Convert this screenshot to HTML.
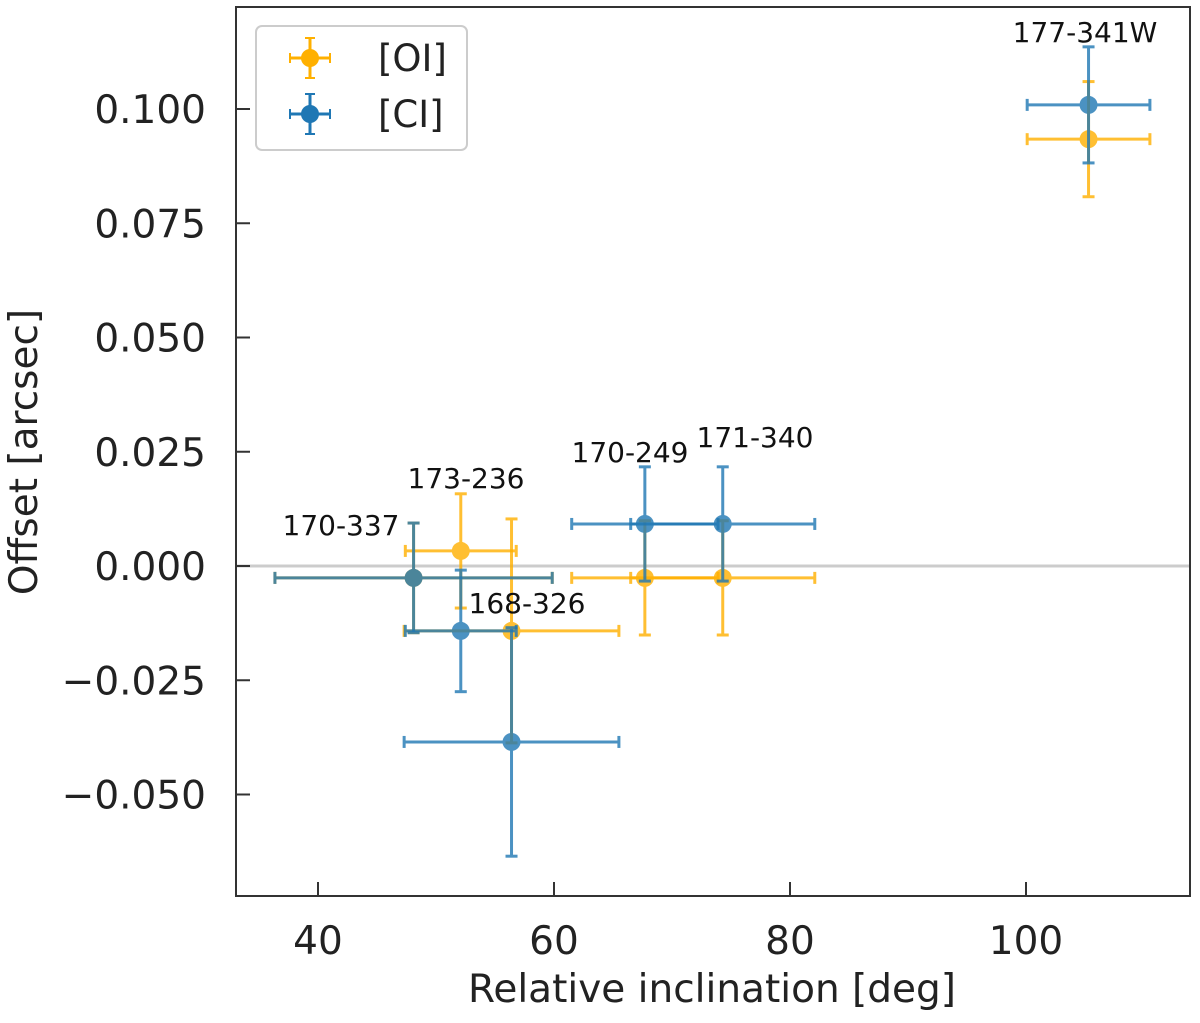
<!DOCTYPE html>
<html><head><meta charset="utf-8"><style>
body{margin:0;background:#fff}
svg text{font-family:"DejaVu Sans","Liberation Sans",sans-serif}
</style></head><body>
<svg id="chart" width="1200" height="1018" viewBox="0 0 1200 1018" xmlns="http://www.w3.org/2000/svg">
<rect width="1200" height="1018" fill="#fff"/>
<line id="zero" x1="236" x2="1190" stroke="#cccccc" stroke-width="3"/>
<g id="marks"></g>
<g id="axes"></g>
<rect x="236" y="7" width="954" height="889" fill="none" stroke="#333" stroke-width="2"/>
<g>
<rect x="256" y="26" width="211" height="124" rx="6" fill="#fff" fill-opacity="0.85" stroke="#ccc" stroke-width="2"/>
<g>
<line x1="290" x2="330" y1="58" y2="58" stroke="#ffb000" stroke-width="3"/><line x1="310" x2="310" y1="38" y2="78" stroke="#ffb000" stroke-width="3"/>
<line x1="290" x2="290" y1="53" y2="63" stroke="#ffb000" stroke-width="2"/><line x1="330" x2="330" y1="53" y2="63" stroke="#ffb000" stroke-width="2"/>
<line x1="305" x2="315" y1="38" y2="38" stroke="#ffb000" stroke-width="2"/><line x1="305" x2="315" y1="78" y2="78" stroke="#ffb000" stroke-width="2"/>
<circle cx="310" cy="58" r="9" fill="#ffb000"/>
<text x="378" y="71" font-size="37" fill="#222">[OI]</text></g>
<g>
<line x1="290" x2="330" y1="114" y2="114" stroke="#1f77b4" stroke-width="3"/><line x1="310" x2="310" y1="94" y2="134" stroke="#1f77b4" stroke-width="3"/>
<line x1="290" x2="290" y1="109" y2="119" stroke="#1f77b4" stroke-width="2"/><line x1="330" x2="330" y1="109" y2="119" stroke="#1f77b4" stroke-width="2"/>
<line x1="305" x2="315" y1="94" y2="94" stroke="#1f77b4" stroke-width="2"/><line x1="305" x2="315" y1="134" y2="134" stroke="#1f77b4" stroke-width="2"/>
<circle cx="310" cy="114" r="9" fill="#1f77b4"/>
<text x="378" y="127" font-size="37" fill="#222">[CI]</text></g>
</g>
<text x="712" y="1002" font-size="39" text-anchor="middle" fill="#222">Relative inclination [deg]</text>
<text transform="translate(37,452) rotate(-90)" font-size="39" text-anchor="middle" fill="#222">Offset [arcsec]</text>
</svg>
<script>
const names = ["170-337","173-236","168-326","170-249","171-340","177-341W"];
const incl = [48.1, 52.1, 56.4, 67.7, 74.3, 105.3];
const inclErr = [11.75, 4.7, 9.1, 6.2, 7.8, 5.2];
const oiOffset = [-0.0026, 0.0033, -0.0142, -0.0026, -0.0026, 0.0934];
const oiErr = [0.012, 0.0125, 0.0245, 0.0125, 0.0125, 0.0126];
const ciOffset = [-0.0026, -0.0142, -0.0385, 0.0092, 0.0092, 0.1009];
const ciErr = [0.012, 0.0133, 0.025, 0.0125, 0.0125, 0.0127];
const xTicks = [40, 60, 80, 100];
const yTicks = [-0.05, -0.025, 0, 0.025, 0.05, 0.075, 0.1];
const yTickLabels = ["\u22120.050","\u22120.025","0.000","0.025","0.050","0.075","0.100"];
const labelPos = [[341,535],[466,488],[527,613],[630,462],[755,447],[1085,42]];

const X = v => 318 + (v - 40) * 11.8;
const Y = v => 566 - v * 4570;
const NS = "http://www.w3.org/2000/svg";
function mk(tag, attrs, parent){const e=document.createElementNS(NS,tag);for(const k in attrs)e.setAttribute(k,attrs[k]);parent.appendChild(e);return e;}
const marks = document.getElementById('marks'), axes = document.getElementById('axes');
const z = document.getElementById('zero'); z.setAttribute('y1', Y(0)); z.setAttribute('y2', Y(0));

function series(off, err, color, nm){
  for(let i=0;i<incl.length;i++){
    const g = mk('g',{opacity:0.8},marks);
    
    
    const cx=X(incl[i]), cy=Y(off[i]), x1=X(incl[i]-inclErr[i]), x2=X(incl[i]+inclErr[i]), y1=Y(off[i]+err[i]), y2=Y(off[i]-err[i]);
    const s={stroke:color,'stroke-width':3};
    mk('line',{x1:x1,x2:x2,y1:cy,y2:cy,...s},g);
    mk('line',{x1:cx,x2:cx,y1:y1,y2:y2,...s},g);
    mk('line',{x1:x1,x2:x1,y1:cy-6,y2:cy+6,...s},g);
    mk('line',{x1:x2,x2:x2,y1:cy-6,y2:cy+6,...s},g);
    mk('line',{x1:cx-6,x2:cx+6,y1:y1,y2:y1,...s},g);
    mk('line',{x1:cx-6,x2:cx+6,y1:y2,y2:y2,...s},g);
    mk('circle',{cx:cx,cy:cy,r:9,fill:color},g);
  }
}
series(oiOffset, oiErr, '#ffb000', 'oi');
series(ciOffset, ciErr, '#1f77b4', 'ci');

for(let i=0;i<names.length;i++){
  const t = mk('text',{x:labelPos[i][0],y:labelPos[i][1],'font-size':28,'text-anchor':'middle',fill:'#111'},marks);
  
  
  t.textContent = names[i];
}
xTicks.forEach(v=>{
  const l = mk('line',{x1:X(v),x2:X(v),y1:896,y2:882,stroke:'#333','stroke-width':2},axes);
  
  
  const t = mk('text',{x:X(v),y:954,'font-size':39,'text-anchor':'middle',fill:'#222'},axes);
  
  
  t.textContent = v;
});
yTicks.forEach((v,i)=>{
  const l = mk('line',{x1:236,x2:250,y1:Y(v),y2:Y(v),stroke:'#333','stroke-width':2},axes);
  
  
  const t = mk('text',{x:206,y:Y(v)+14,'font-size':39,'text-anchor':'end',fill:'#222'},axes);
  
  
  t.textContent = yTickLabels[i];
});
</script>
</body></html>
